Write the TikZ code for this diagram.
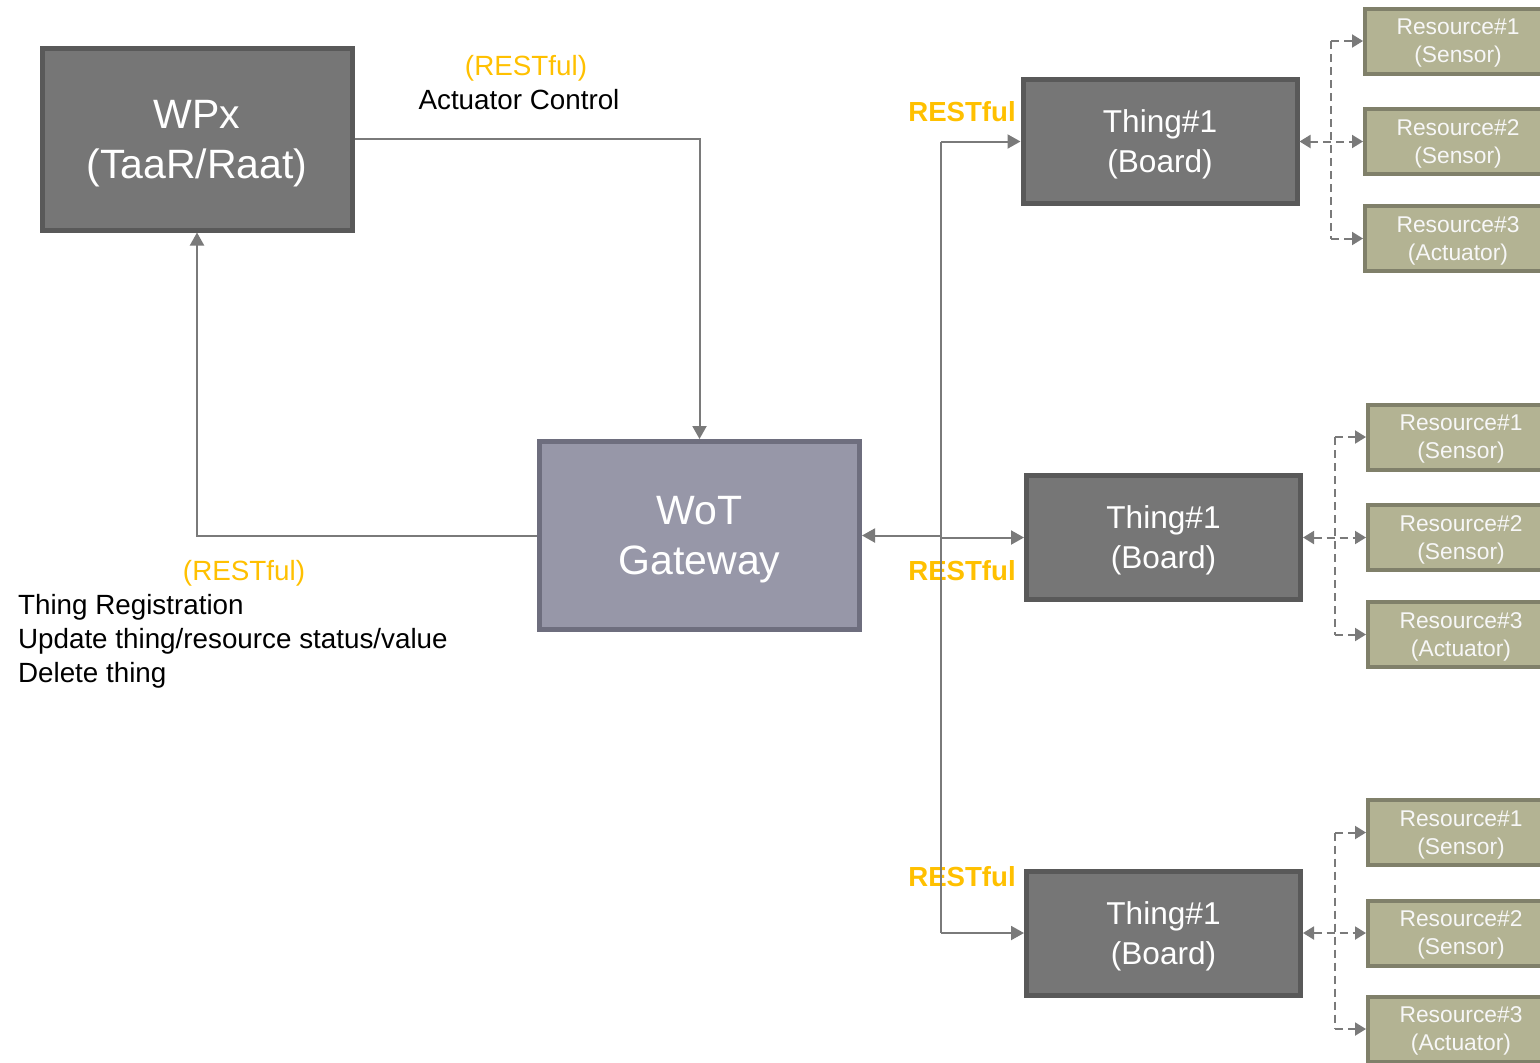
\documentclass[tikz,border=0pt]{standalone}
\usepackage{fontspec}
\setmainfont{Liberation Sans}
\usetikzlibrary{arrows.meta}

\definecolor{boardfill}{HTML}{767676}
\definecolor{boardline}{HTML}{595959}
\definecolor{gwfill}{HTML}{9797A8}
\definecolor{gwline}{HTML}{6E6E7E}
\definecolor{resfill}{HTML}{B3B393}
\definecolor{resline}{HTML}{80806A}
\definecolor{wire}{HTML}{7A7A7A}
\definecolor{rest}{HTML}{FFC000}

\tikzset{
	board/.style = {draw = boardline, fill = boardfill, line width = 2.5pt, text = white,
		minimum width = 137pt, minimum height = 62pt, align = center, text depth = -0.65pt,
		font = \fontsize{15.8}{20}\selectfont},
	bigbox/.style = {board, minimum width = 155pt, minimum height = 91pt, text depth = -1.65pt,
		font = \fontsize{20.5}{25}\selectfont},
	gwbox/.style = {bigbox, draw = gwline, fill = gwfill, minimum width = 160pt, minimum height = 94pt},
	resbox/.style = {draw = resline, fill = resfill, line width = 2pt, text = white!97!black,
		minimum width = 93pt, minimum height = 32.5pt, align = center, text depth = -1.6pt,
		font = \fontsize{11.4}{14}\selectfont},
	wireline/.style = {draw = wire, line width = 1pt},
	arr/.style = {wireline, -{Triangle[length = 6.5pt, width = 7pt]}},
	tip/.style = {-{Triangle[length = 5.5pt, width = 6.5pt]}},
	darr/.style = {wireline, dash pattern = on 4pt off 2.5pt, tip},
	restlbl/.style = {text = rest, font = \fontsize{13.9}{17}\selectfont},
	boldrest/.style = {text = rest, font = \fontsize{13.8}{17}\selectfont\bfseries},
	txt/.style = {font = \fontsize{13.9}{17}\selectfont, align = left}
}

\begin{document}
\begin{tikzpicture}[x = 0.5pt, y = -0.5pt]
	\useasboundingbox (0,0) rectangle (1540,1062);

	% main boxes
	\node[bigbox] (WPx) at (197,139) {WPx\\(TaaR/Raat)};
	\node[gwbox] (WoT) at (699.5,535.5) {WoT\\Gateway};
	\node[board] (T1) at (1160,141.5) {Thing\#1\\(Board)};
	\node[board] (T2) at (1163.5,537.5) {Thing\#1\\(Board)};
	\node[board] (T3) at (1163.5,933) {Thing\#1\\(Board)};

	% resources
	\node[resbox] (R11) at (1458,41) {Resource\#1\\(Sensor)};
	\node[resbox] (R12) at (1458,141.5) {Resource\#2\\(Sensor)};
	\node[resbox] (R13) at (1458,238.5) {Resource\#3\\(Actuator)};
	\node[resbox] (R21) at (1461,437) {Resource\#1\\(Sensor)};
	\node[resbox] (R22) at (1461,537.5) {Resource\#2\\(Sensor)};
	\node[resbox] (R23) at (1461,634.5) {Resource\#3\\(Actuator)};
	\node[resbox] (R31) at (1461,832.5) {Resource\#1\\(Sensor)};
	\node[resbox] (R32) at (1461,933) {Resource\#2\\(Sensor)};
	\node[resbox] (R33) at (1461,1029) {Resource\#3\\(Actuator)};

	% labels
	\node[restlbl] (L1a) at (526,68) {(RESTful)};
	\node[txt] (L1b) at (519,100) {Actuator Control};
	\node[restlbl] (L2a) at (244,573) {(RESTful)};
	\node[txt, anchor = west] (L2b) at (11,641) {Thing Registration\\Update thing/resource status/value\\Delete thing};
	\node[boldrest] (B1) at (962,112) {RESTful};
	\node[boldrest] (B2) at (962,571) {RESTful};
	\node[boldrest] (B3) at (962,877) {RESTful};

	% bus and dashed rails
	\coordinate (bus) at (941,0);
	\coordinate (D1) at (1331,0);
	\coordinate (D2) at (1335,0);

	\draw[arr] (WPx.east) -| (WoT.north);
	\draw[arr] (WoT.west) -| (WPx.south);
	\draw[wireline] (bus |- T1.west) -- (bus |- T3.west);
	\draw[arr] (bus |- T1.west) -- (T1.west);
	\draw[arr] (bus |- T2.west) -- (T2.west);
	\draw[arr] (bus |- T3.west) -- (T3.west);
	\draw[arr] (bus |- WoT.east) -- (WoT.east);

	\draw[darr, {Triangle[length = 5.5pt, width = 6.5pt]}-{Triangle[length = 5.5pt, width = 6.5pt]}] (T1.east) -- (R12.west);
	\draw[darr, -] (D1 |- R11.west) -- (D1 |- R13.west);
	\draw[darr] (D1 |- R11.west) -- (R11.west);
	\draw[darr] (D1 |- R13.west) -- (R13.west);

	\draw[darr, {Triangle[length = 5.5pt, width = 6.5pt]}-{Triangle[length = 5.5pt, width = 6.5pt]}] (T2.east) -- (R22.west);
	\draw[darr, -] (D2 |- R21.west) -- (D2 |- R23.west);
	\draw[darr] (D2 |- R21.west) -- (R21.west);
	\draw[darr] (D2 |- R23.west) -- (R23.west);

	\draw[darr, {Triangle[length = 5.5pt, width = 6.5pt]}-{Triangle[length = 5.5pt, width = 6.5pt]}] (T3.east) -- (R32.west);
	\draw[darr, -] (D2 |- R31.west) -- (D2 |- R33.west);
	\draw[darr] (D2 |- R31.west) -- (R31.west);
	\draw[darr] (D2 |- R33.west) -- (R33.west);
\end{tikzpicture}
\end{document}
